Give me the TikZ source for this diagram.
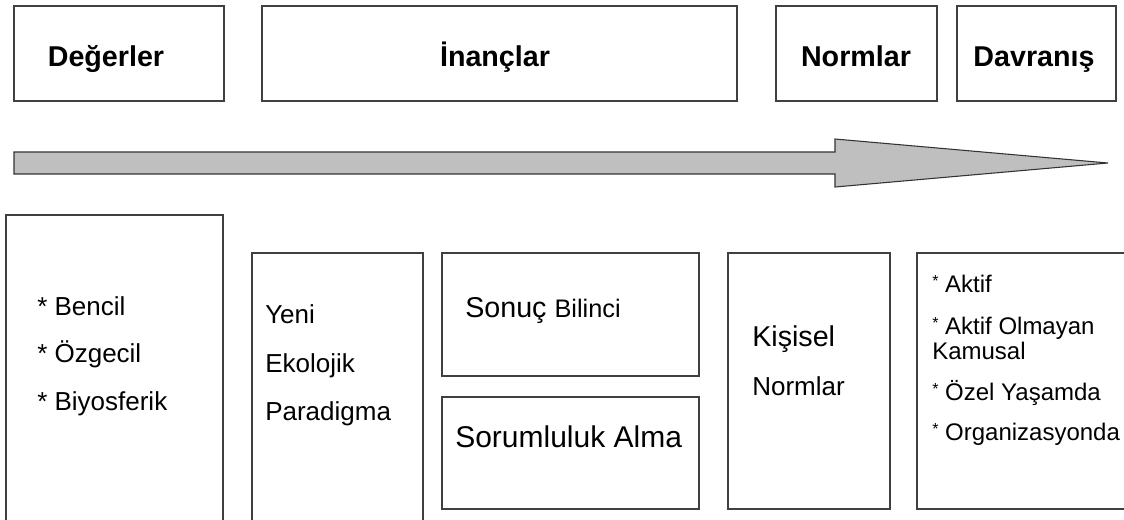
\documentclass[tikz,border=0pt]{standalone}
\usepackage{fontspec}
\setmainfont{Liberation Sans}
\usetikzlibrary{fit}
\newcommand\fsz[1]{\fontsize{#1}{#1}\selectfont}
\newcommand\smallast{\raisebox{4pt}{\fsz{12pt}*}}

\begin{document}
\begin{tikzpicture}[x=0.75pt, y=-0.75pt,
  box/.style={draw=black!75, line width=0.8pt, inner sep=0pt},
  head/.style={font=\bfseries\fsz{21.5pt}, inner sep=0pt, anchor=base},
  txt/.style={font=\fsz{#1}, inner sep=0pt, anchor=base west},
  txt/.default=19.5pt,
  flow/.style={draw=black!80, line width=0.8pt, fill=black!25}]
\clip (0,0) rectangle (1124,519);
\fill[white] (0,0) rectangle (1124,519);
% top row
\node[box, fit={(14,6) (224,101)}] (deger) {};
\node[box, fit={(262,6) (737,101)}] (inanc) {};
\node[box, fit={(776,6) (937,101)}] (norm) {};
\node[box, fit={(957,6) (1116,101)}] (davran) {};
\node[head] (tdeger) at (106,66) {Değerler};
\node[head] (tinanc) at (495,66) {İnançlar};
\node[head] (tnorm) at (856,66) {Normlar};
\node[head] (tdavran) at (1034,66) {Davranış};
% arrow
\draw[flow] (14,152) -- (835,152) -- (835,139) -- (1108,163)
  -- (835,187) -- (835,174) -- (14,174) -- cycle;
% bottom row
\node[box, fit={(6,215) (223,540)}] (tur) {};
\node[box, fit={(252,253) (423,540)}] (nep) {};
\node[box, fit={(442,253) (699,376)}] (sonuc) {};
\node[box, fit={(442,397) (699,509)}] (sorum) {};
\node[box, fit={(728,253) (890,509)}] (kisi) {};
\node[box, fit={(917,253) (1140,509)}] (tip) {};
\node[txt] (bencil) at (37,315) {* Bencil};
\node[txt] (ozgecil) at (37,362) {* Özgecil};
\node[txt] (biyo) at (37,410) {* Biyosferik};
\node[txt] (yeni) at (265,323) {Yeni};
\node[txt] (ekol) at (265,372) {Ekolojik};
\node[txt] (parad) at (265,420) {Paradigma};
\node[txt=21.5pt] (tsonuc) at (465,317) {Sonuç {\fsz{19pt}Bilinci}};
\node[txt=22.5pt] (tsorum) at (455,447) {Sorumluluk Alma};
\node[txt=21.5pt] (tkisi) at (752,346) {Kişisel};
\node[txt] (tknorm) at (752,395) {Normlar};
\node[txt=18pt] (aktif) at (932,292) {\smallast{} Aktif};
\node[txt=18pt] (olmayan) at (932,334) {\smallast{} Aktif Olmayan};
\node[txt=18pt] (kamu) at (932,359) {Kamusal};
\node[txt=18pt] (ozel) at (932,400) {\smallast{} Özel Yaşamda};
\node[txt=18pt] (organ) at (932,440) {\smallast{} Organizasyonda};
\end{tikzpicture}
\end{document}
